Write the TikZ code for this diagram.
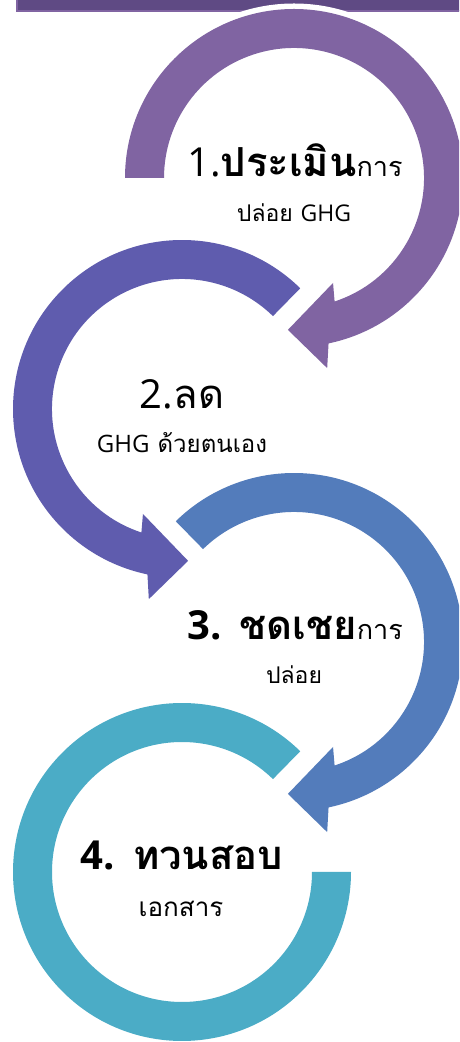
\documentclass[tikz,border=0pt]{standalone}
\usepackage{fontspec}
\newfontfamily\thai[Script=Thai]{Loma}
\newfontfamily\lat{Open Sans}
\definecolor{barfill}{HTML}{5F4A84}
\definecolor{barline}{HTML}{8064A2}
\definecolor{cA}{HTML}{8064A2}
\definecolor{cB}{HTML}{5F5CAE}
\definecolor{cC}{HTML}{537CBB}
\definecolor{cD}{HTML}{4BACC6}
\tikzset{
  ringshape/.style={fill=#1, preaction={draw=white, line width=11}},
  lbl/.style={anchor=base, inner sep=0pt, text=black, font=\thai},
}
\newcommand\szbig{\fontsize{40}{40}\selectfont}
\newcommand\szsml{\fontsize{27}{27}\selectfont}
\newcommand\szmid{\fontsize{23}{23}\selectfont}
\newcommand\la[1]{{\lat #1}}
\begin{document}
\begin{tikzpicture}[x=1pt,y=1pt]
\useasboundingbox (0,0) rectangle (459,1042);
\clip (0,0) rectangle (459,1042);
% top bar
\path[fill=barfill, draw=barline, line width=2] (17,1031) rectangle (480,1060);
% ring 1
\begin{scope}[shift={(294,864)}]
\path[ringshape=cA] (180:169) arc[start angle=180, end angle=-78.2, radius=169]
  -- (-80.1:193) -- (-92.3:152) -- (-69.6:112) -- (-71.8:130)
  arc[start angle=-71.8, end angle=180, radius=130] -- cycle;
\end{scope}
% ring 2
\begin{scope}[shift={(182,633)}]
\path[ringshape=cB] (45.6:169) arc[start angle=45.6, end angle=258.2, radius=169]
  -- (260.1:193) -- (272.3:152) -- (249.6:112) -- (251.8:130)
  arc[start angle=251.8, end angle=45.6, radius=130] -- cycle;
\end{scope}
% ring 3
\begin{scope}[shift={(294,400)}]
\path[ringshape=cC] (134.4:169) arc[start angle=134.4, end angle=-78.2, radius=169]
  -- (-80.1:193) -- (-92.3:152) -- (-69.6:112) -- (-71.8:130)
  arc[start angle=-71.8, end angle=134.4, radius=130] -- cycle;
\end{scope}
% ring 4
\begin{scope}[shift={(182,170)}]
\path[ringshape=cD] (45.6:169) arc[start angle=45.6, end angle=360, radius=169]
  -- (0:130) arc[start angle=360, end angle=45.6, radius=130] -- cycle;
\end{scope}
% labels
\node[lbl] (t1) at (295,865) {\szbig \la{1.}\textbf{ประเมิน}{\szsml การ}};
\node[lbl] (t1b) at (294,820) {\szmid ปล่อย \la{GHG}};
\node[lbl] (t2) at (182,633) {\szbig \la{2.}ลด};
\node[lbl] (t2b) at (182,589) {\fontsize{24}{24}\selectfont \la{GHG} ด้วยตนเอง};
\node[lbl] (t3) at (295,402) {\szbig\textbf{\la{3.} ชดเชย}{\szsml การ}};
\node[lbl] (t3b) at (294,358) {\szmid ปล่อย};
\node[lbl] (t4) at (182,172) {\szbig\textbf{\la{4.} ทวนสอบ}};
\node[lbl] (t4b) at (181,125) {\fontsize{26}{26}\selectfont เอกสาร};
\end{tikzpicture}
\end{document}
